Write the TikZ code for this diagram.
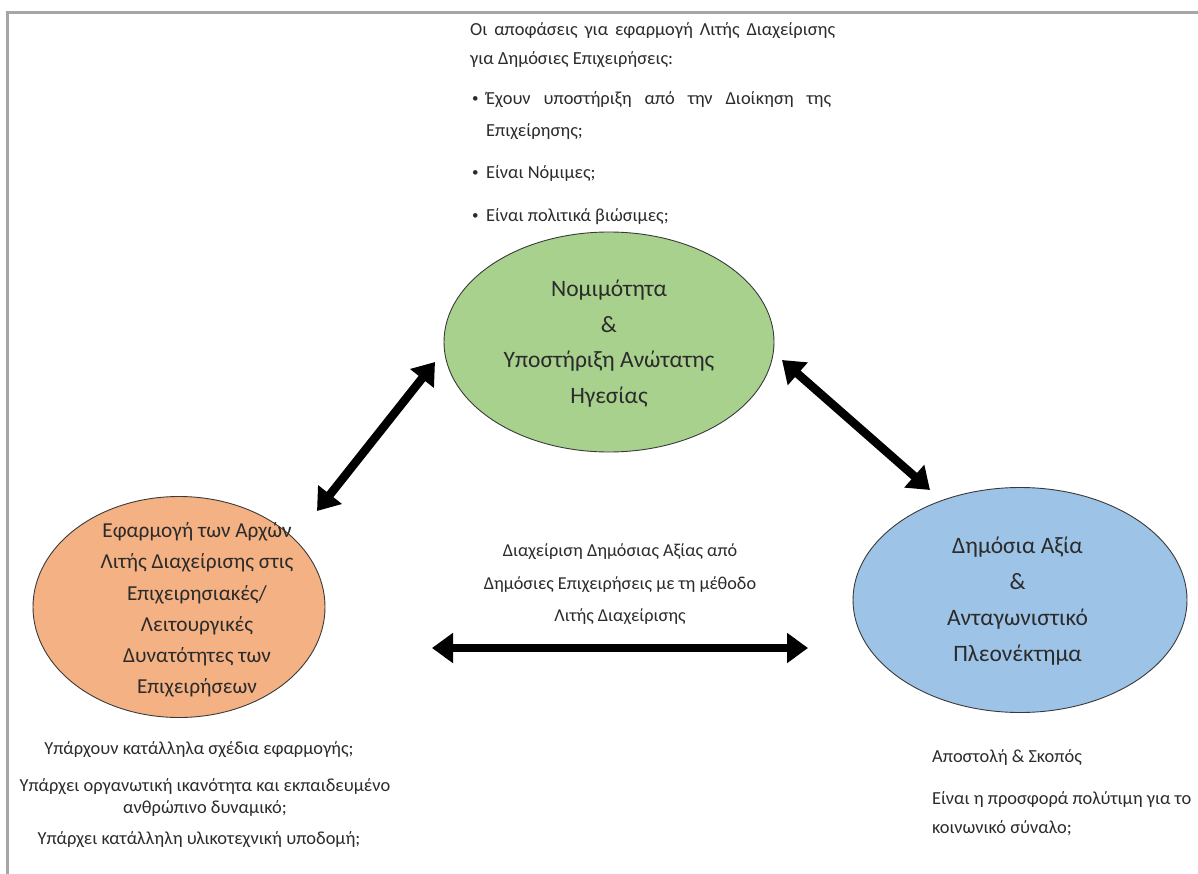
\documentclass[tikz,border=0pt]{standalone}
\usepackage{fontspec}
\setmainfont{Carlito}
\usetikzlibrary{arrows.meta,shapes.geometric}
\definecolor{framegray}{HTML}{A6A6A6}
\definecolor{txtgray}{HTML}{2B2B2B}
\definecolor{greenfill}{HTML}{A9D18E}
\definecolor{orangefill}{HTML}{F4B183}
\definecolor{bluefill}{HTML}{9DC3E6}
\definecolor{edgegray}{HTML}{3A3A3A}
\tikzset{
  oval/.style={ellipse, draw=edgegray, line width=0.9pt, inner sep=0pt},
  ovaltext/.style={text=txtgray, align=center, inner sep=0pt, font=\fontsize{23.5}{35.7}\selectfont},
  body/.style={text=txtgray, inner sep=0pt, font=\fontsize{18.4}{22}\selectfont},
  bodyl/.style={body, anchor=west},
  dblarrow/.style={line width=8.5pt, {Triangle[length=21pt,width=29pt]}-{Triangle[length=21pt,width=29pt]}}
}
\begin{document}
\begin{tikzpicture}[x=1pt,y=-1pt]
\useasboundingbox (0,0) rectangle (1198,874);
% frame
\draw[framegray, line width=3pt] (7.5,874) -- (7.5,12.5) -- (1198,12.5);

% ellipses
\node[oval, fill=greenfill, minimum width=330pt, minimum height=220pt] (green) at (609,342) {};
\node[oval, fill=orangefill, minimum width=292pt, minimum height=221pt] (orange) at (179,607) {};
\node[oval, fill=bluefill, minimum width=334pt, minimum height=225pt] (blue) at (1020,600) {};

% ellipse texts
\node[ovaltext] (gtxt) at (609,343.5) {Νομιμότητα\\\&\\Υποστήριξη Ανώτατης\\Ηγεσίας};
\node[ovaltext, font=\fontsize{21.3}{31.2}\selectfont] (otxt) at (197,610) {Εφαρμογή των Αρχών\\Λιτής Διαχείρισης στις\\Επιχειρησιακές/\\Λειτουργικές\\Δυνατότητες των\\Επιχειρήσεων};
\node[ovaltext, font=\fontsize{23.5}{36}\selectfont] (btxt) at (1017.5,601) {Δημόσια Αξία\\\&\\Ανταγωνιστικό\\Πλεονέκτημα};

% top block
\node[bodyl] (t1) at (470,31) {\makebox[365pt][s]{Οι αποφάσεις για εφαρμογή Λιτής Διαχείρισης}};
\node[bodyl] (t2) at (470,60) {για Δημόσιες Επιχειρήσεις:};
\node[bodyl, font=\fontsize{13}{15}\selectfont] (b1) at (472,100) {•};
\node[bodyl] (t3) at (486,100) {\makebox[345pt][s]{Έχουν υποστήριξη από την Διοίκηση της}};
\node[bodyl] (t4) at (486,132) {Επιχείρησης;};
\node[bodyl, font=\fontsize{13}{15}\selectfont] (b2) at (472,174) {•};
\node[bodyl] (t5) at (486,174) {Είναι Νόμιμες;};
\node[bodyl, font=\fontsize{13}{15}\selectfont] (b3) at (472,217) {•};
\node[bodyl] (t6) at (486,217) {Είναι πολιτικά βιώσιμες;};

% middle text
\node[body, align=center, font=\fontsize{18.2}{32.5}\selectfont] (mid) at (620,584.5) {Διαχείριση Δημόσιας Αξίας από\\Δημόσιες Επιχειρήσεις με τη μέθοδο\\Λιτής Διαχείρισης};

% bottom left
\node[body] (l1) at (199,750) {Υπάρχουν κατάλληλα σχέδια εφαρμογής;};
\node[body, align=center] (l2) at (205,797.5) {Υπάρχει οργανωτική ικανότητα και εκπαιδευμένο\\ανθρώπινο δυναμικό;};
\node[body] (l3) at (199,840) {Υπάρχει κατάλληλη υλικοτεχνική υποδομή;};

% bottom right
\node[bodyl] (r1) at (932,757) {Αποστολή \& Σκοπός};
\node[bodyl] (r2) at (932,799) {Είναι η προσφορά πολύτιμη για το};
\node[bodyl] (r3) at (932,828) {κοινωνικό σύναλο;};

% arrow endpoints
\coordinate (aLo) at (317,511);
\coordinate (aLg) at (435,362);
\coordinate (aRg) at (782,360);
\coordinate (aRb) at (930,490);
\coordinate (aHo) at (432,648);
\coordinate (aHb) at (808,648);
\draw[dblarrow] (aLo) -- (aLg);
\draw[dblarrow] (aRg) -- (aRb);
\draw[dblarrow] (aHo) -- (aHb);
\end{tikzpicture}
\end{document}
